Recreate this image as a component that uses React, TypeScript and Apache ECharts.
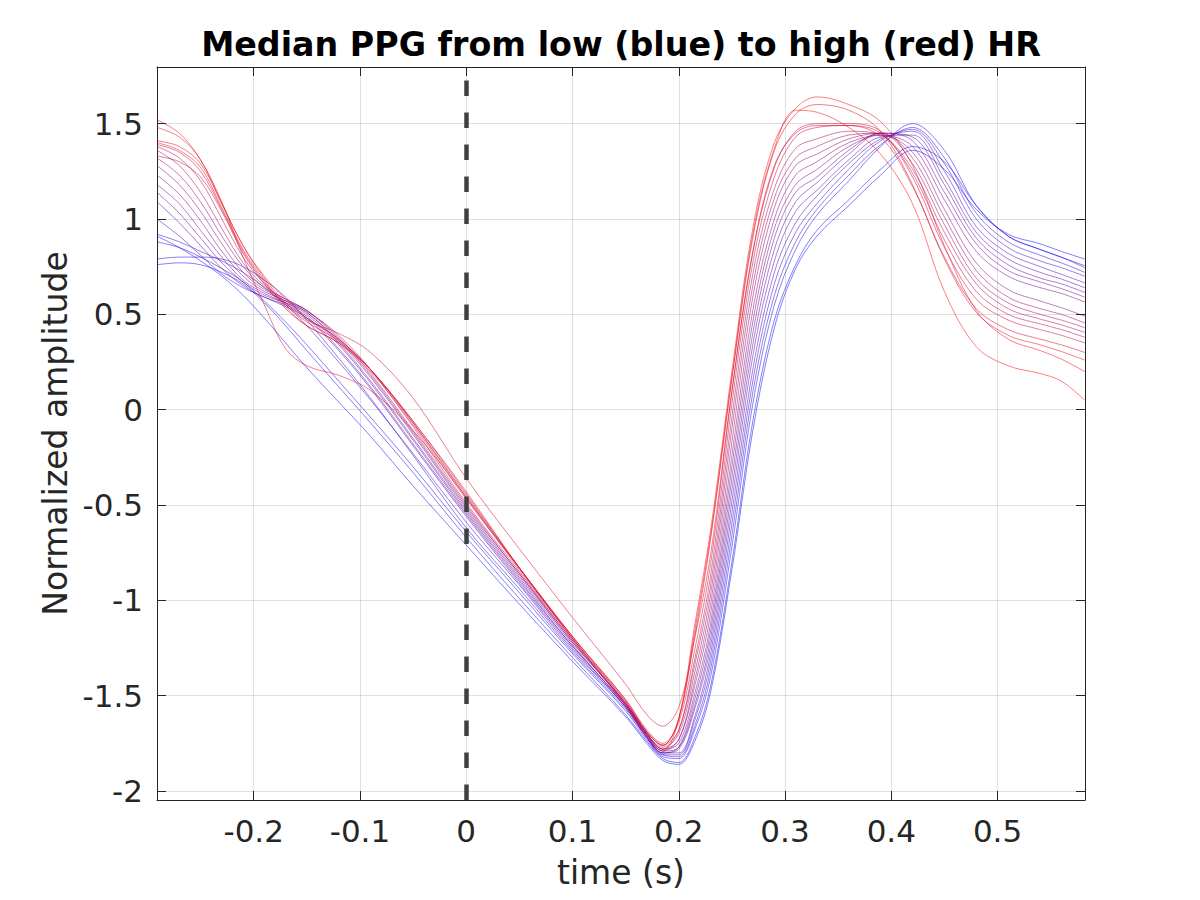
import { useEffect, useRef } from "react";
import * as echarts from "echarts";

const TITLE = "Median PPG from low (blue) to high (red) HR";
const X_NAME = "time (s)";
const Y_NAME = "Normalized amplitude";
const X_RANGE = [-0.291, 0.5823];
const Y_RANGE = [-2.047, 1.797];

// sample times (s) shared by every median beat
const TIME = [
  -0.291, -0.27, -0.25, -0.23, -0.21, -0.19, -0.17,
  -0.15, -0.12, -0.09, -0.05, 0, 0.05, 0.1, 0.15,
  0.17, 0.185, 0.2, 0.215, 0.23,
  0.25, 0.27, 0.29, 0.31, 0.33, 0.36, 0.39, 0.42, 0.45, 0.48, 0.51, 0.54, 0.56, 0.582,
];

// median PPG beats, ordered from low HR (blue) to high HR (red)
const HR01 = [0.91, 0.85, 0.78, 0.70, 0.60, 0.48, 0.35, 0.22, 0.04, -0.14, -0.40, -0.71, -1.02, -1.32, -1.61, -1.75, -1.84, -1.86, -1.74, -1.48, -0.84, -0.10, 0.43, 0.74, 0.91, 1.07, 1.23, 1.36, 1.26, 1.05, 0.92, 0.87, 0.83, 0.79];
const HR02 = [0.76, 0.77, 0.76, 0.72, 0.66, 0.56, 0.44, 0.31, 0.12, -0.07, -0.33, -0.67, -0.99, -1.30, -1.60, -1.74, -1.83, -1.85, -1.72, -1.45, -0.80, -0.05, 0.47, 0.76, 0.94, 1.10, 1.26, 1.38, 1.30, 1.07, 0.91, 0.84, 0.80, 0.755];
const HR03 = [0.88, 0.85, 0.80, 0.74, 0.67, 0.57, 0.46, 0.34, 0.15, -0.04, -0.30, -0.64, -0.96, -1.28, -1.58, -1.73, -1.82, -1.83, -1.68, -1.40, -0.72, 0.04, 0.55, 0.84, 1.02, 1.20, 1.38, 1.50, 1.36, 1.07, 0.91, 0.84, 0.80, 0.745];
const HR04 = [0.79, 0.80, 0.80, 0.79, 0.75, 0.68, 0.59, 0.47, 0.27, 0.06, -0.24, -0.62, -0.94, -1.27, -1.57, -1.72, -1.81, -1.82, -1.66, -1.36, -0.66, 0.10, 0.60, 0.88, 1.05, 1.23, 1.39, 1.48, 1.32, 1.03, 0.88, 0.81, 0.77, 0.72];
const HR05 = [0.92, 0.88, 0.83, 0.78, 0.72, 0.64, 0.55, 0.44, 0.25, 0.05, -0.23, -0.59, -0.92, -1.26, -1.56, -1.72, -1.81, -1.81, -1.63, -1.32, -0.60, 0.16, 0.66, 0.93, 1.08, 1.26, 1.41, 1.47, 1.29, 1.00, 0.85, 0.78, 0.745, 0.70];
const HR06 = [1.00, 0.91, 0.81, 0.71, 0.64, 0.59, 0.54, 0.48, 0.31, 0.11, -0.19, -0.56, -0.91, -1.25, -1.56, -1.71, -1.80, -1.80, -1.61, -1.28, -0.54, 0.22, 0.72, 0.98, 1.12, 1.29, 1.42, 1.46, 1.25, 0.96, 0.82, 0.75, 0.71, 0.665];
const HR07 = [1.09, 0.98, 0.86, 0.74, 0.65, 0.59, 0.55, 0.49, 0.32, 0.12, -0.18, -0.55, -0.90, -1.24, -1.55, -1.71, -1.80, -1.78, -1.57, -1.24, -0.48, 0.29, 0.78, 1.04, 1.15, 1.31, 1.43, 1.44, 1.21, 0.93, 0.79, 0.72, 0.685, 0.64];
const HR08 = [1.14, 1.03, 0.90, 0.77, 0.67, 0.60, 0.56, 0.50, 0.34, 0.14, -0.16, -0.54, -0.89, -1.24, -1.55, -1.70, -1.79, -1.77, -1.55, -1.20, -0.42, 0.35, 0.84, 1.09, 1.19, 1.34, 1.45, 1.43, 1.18, 0.90, 0.76, 0.69, 0.66, 0.615];
const HR09 = [1.18, 1.08, 0.94, 0.80, 0.68, 0.61, 0.56, 0.51, 0.35, 0.15, -0.15, -0.53, -0.88, -1.23, -1.56, -1.72, -1.80, -1.77, -1.52, -1.16, -0.36, 0.41, 0.90, 1.14, 1.22, 1.36, 1.45, 1.41, 1.14, 0.87, 0.73, 0.67, 0.635, 0.59];
const HR10 = [1.23, 1.13, 0.99, 0.83, 0.70, 0.62, 0.57, 0.51, 0.36, 0.17, -0.13, -0.52, -0.87, -1.22, -1.54, -1.70, -1.78, -1.75, -1.49, -1.12, -0.30, 0.47, 0.95, 1.18, 1.26, 1.38, 1.44, 1.38, 1.10, 0.83, 0.70, 0.64, 0.61, 0.565];
const HR11 = [1.28, 1.18, 1.04, 0.87, 0.72, 0.63, 0.57, 0.52, 0.37, 0.18, -0.12, -0.51, -0.86, -1.22, -1.54, -1.70, -1.78, -1.73, -1.45, -1.07, -0.24, 0.53, 1.00, 1.23, 1.30, 1.40, 1.44, 1.35, 1.05, 0.77, 0.63, 0.57, 0.535, 0.49];
const HR12 = [1.32, 1.23, 1.09, 0.91, 0.75, 0.64, 0.58, 0.52, 0.38, 0.19, -0.11, -0.50, -0.86, -1.21, -1.55, -1.71, -1.79, -1.73, -1.42, -1.02, -0.17, 0.60, 1.06, 1.28, 1.34, 1.42, 1.45, 1.32, 1.01, 0.73, 0.59, 0.53, 0.50, 0.455];
const HR13 = [1.36, 1.28, 1.14, 0.95, 0.77, 0.65, 0.58, 0.52, 0.39, 0.21, -0.09, -0.49, -0.85, -1.21, -1.54, -1.70, -1.77, -1.70, -1.38, -0.97, -0.10, 0.66, 1.11, 1.32, 1.38, 1.44, 1.45, 1.29, 0.97, 0.69, 0.56, 0.50, 0.47, 0.43];
const HR14 = [1.38, 1.32, 1.20, 1.00, 0.80, 0.66, 0.56, 0.48, 0.37, 0.21, -0.07, -0.46, -0.84, -1.20, -1.53, -1.69, -1.76, -1.68, -1.34, -0.92, -0.04, 0.72, 1.16, 1.37, 1.42, 1.46, 1.44, 1.26, 0.93, 0.66, 0.53, 0.475, 0.445, 0.405];
const HR15 = [1.39, 1.35, 1.25, 1.05, 0.83, 0.67, 0.55, 0.46, 0.36, 0.21, -0.06, -0.44, -0.83, -1.20, -1.54, -1.70, -1.78, -1.68, -1.31, -0.87, 0.03, 0.78, 1.22, 1.43, 1.48, 1.49, 1.45, 1.24, 0.89, 0.62, 0.50, 0.45, 0.42, 0.38];
const HR16 = [1.33, 1.30, 1.22, 1.04, 0.82, 0.66, 0.53, 0.44, 0.35, 0.21, -0.07, -0.45, -0.83, -1.19, -1.52, -1.68, -1.75, -1.64, -1.26, -0.81, 0.09, 0.83, 1.27, 1.46, 1.50, 1.50, 1.46, 1.22, 0.85, 0.58, 0.47, 0.42, 0.39, 0.35];
const HR17 = [1.41, 1.38, 1.29, 1.08, 0.86, 0.69, 0.56, 0.47, 0.40, 0.30, 0.06, -0.36, -0.73, -1.09, -1.44, -1.60, -1.66, -1.56, -1.20, -0.76, 0.10, 0.84, 1.28, 1.45, 1.49, 1.49, 1.43, 1.17, 0.80, 0.53, 0.42, 0.37, 0.34, 0.30];
const HR18 = [1.52, 1.45, 1.31, 1.09, 0.80, 0.55, 0.32, 0.23, 0.18, 0.10, -0.11, -0.46, -0.83, -1.19, -1.53, -1.69, -1.76, -1.62, -1.19, -0.68, 0.16, 0.91, 1.36, 1.55, 1.60, 1.57, 1.46, 1.18, 0.79, 0.51, 0.39, 0.34, 0.305, 0.26];
const HR19 = [1.48, 1.43, 1.31, 1.08, 0.86, 0.70, 0.58, 0.48, 0.37, 0.21, -0.06, -0.43, -0.83, -1.20, -1.55, -1.72, -1.79, -1.62, -1.13, -0.63, 0.20, 0.96, 1.40, 1.58, 1.64, 1.60, 1.51, 1.28, 0.86, 0.52, 0.37, 0.31, 0.265, 0.20];
const HR20 = [1.40, 1.36, 1.27, 1.06, 0.84, 0.68, 0.54, 0.44, 0.35, 0.20, -0.08, -0.47, -0.83, -1.19, -1.52, -1.69, -1.76, -1.62, -1.16, -0.66, 0.17, 0.93, 1.37, 1.57, 1.56, 1.48, 1.34, 1.08, 0.62, 0.33, 0.23, 0.19, 0.15, 0.05];

const CURVES = [HR01, HR02, HR03, HR04, HR05, HR06, HR07, HR08, HR09, HR10, HR11, HR12, HR13, HR14, HR15, HR16, HR17, HR18, HR19, HR20];

const FONT = "DejaVu Sans";
const INK = "#262626";

// blue -> red, half transparent like the matlab plot
function beatColor(i: number, n: number) {
  const f = n > 1 ? i / (n - 1) : 0;
  const r = Math.round(255 * f);
  const b = Math.round(255 * (1 - f));
  return `rgba(${r},0,${b},0.5)`;
}

export default function App() {
  const chartRef = useRef<HTMLDivElement>(null);

  useEffect(() => {
    if (!chartRef.current) return;
    const chart = echarts.init(chartRef.current, null, { renderer: "svg" });

    const series: any[] = CURVES.map((row, i) => ({
      type: "line",
      data: TIME.map((t, j) => [t, row[j]]),
      showSymbol: false,
      symbol: "none",
      smooth: 0.35,
      silent: true,
      lineStyle: { width: 1, color: beatColor(i, CURVES.length) },
      emphasis: { disabled: true },
    }));

    // dashed marker at t = 0
    series.push({
      type: "line",
      data: [],
      silent: true,
      z: 5,
      markLine: {
        silent: true,
        symbol: ["none", "none"],
        label: { show: false },
        lineStyle: { color: "#404040", width: 4.5, type: [15.5, 16.5], opacity: 1 },
        emphasis: { disabled: true },
        data: [{ xAxis: 0 }],
      },
    });

    const tickStyle = { inside: true, length: 9, lineStyle: { color: INK, width: 1 } };
    const lineStyle = { onZero: false, lineStyle: { color: INK, width: 1 } };
    const labelStyle = { fontFamily: FONT, fontSize: 31, color: INK, showMinLabel: false, showMaxLabel: false };
    const gridLine = { show: true, lineStyle: { color: "rgba(38,38,38,0.15)", width: 1 } };

    chart.setOption({
      animation: false,
      title: {
        text: TITLE,
        left: 616,
        top: 23,
        textAlign: "center",
        textStyle: { fontFamily: FONT, fontSize: 33.3, fontWeight: "bold", color: "#000" },
      },
      grid: { left: 157, right: 115, top: 67, bottom: 100, outerBoundsMode: "none" },
      xAxis: [
        {
          type: "value",
          min: X_RANGE[0],
          max: X_RANGE[1],
          splitNumber: 8,
          name: X_NAME,
          nameLocation: "middle",
          nameGap: 56,
          nameTextStyle: { fontFamily: FONT, fontSize: 33, color: INK },
          axisLine: lineStyle,
          axisTick: tickStyle,
          axisLabel: { ...labelStyle, margin: 15 },
          splitLine: gridLine,
        },
        {
          type: "value",
          position: "top",
          min: X_RANGE[0],
          max: X_RANGE[1],
          splitNumber: 8,
          axisLine: lineStyle,
          axisTick: tickStyle,
          axisLabel: { show: false },
          splitLine: { show: false },
        },
      ],
      yAxis: [
        {
          type: "value",
          min: Y_RANGE[0],
          max: Y_RANGE[1],
          splitNumber: 8,
          name: Y_NAME,
          nameLocation: "middle",
          nameGap: 82,
          nameTextStyle: { fontFamily: FONT, fontSize: 33, color: INK },
          axisLine: lineStyle,
          axisTick: tickStyle,
          axisLabel: { ...labelStyle, margin: 14 },
          splitLine: gridLine,
        },
        {
          type: "value",
          position: "right",
          min: Y_RANGE[0],
          max: Y_RANGE[1],
          splitNumber: 8,
          axisLine: lineStyle,
          axisTick: tickStyle,
          axisLabel: { show: false },
          splitLine: { show: false },
        },
      ],
      series,
    });

    return () => {
      chart.dispose();
    };
  }, []);

  return (
    <div
      ref={chartRef}
      style={{ position: "absolute", left: 0, top: 0, width: 1200, height: 900, background: "#fff" }}
    />
  );
}
